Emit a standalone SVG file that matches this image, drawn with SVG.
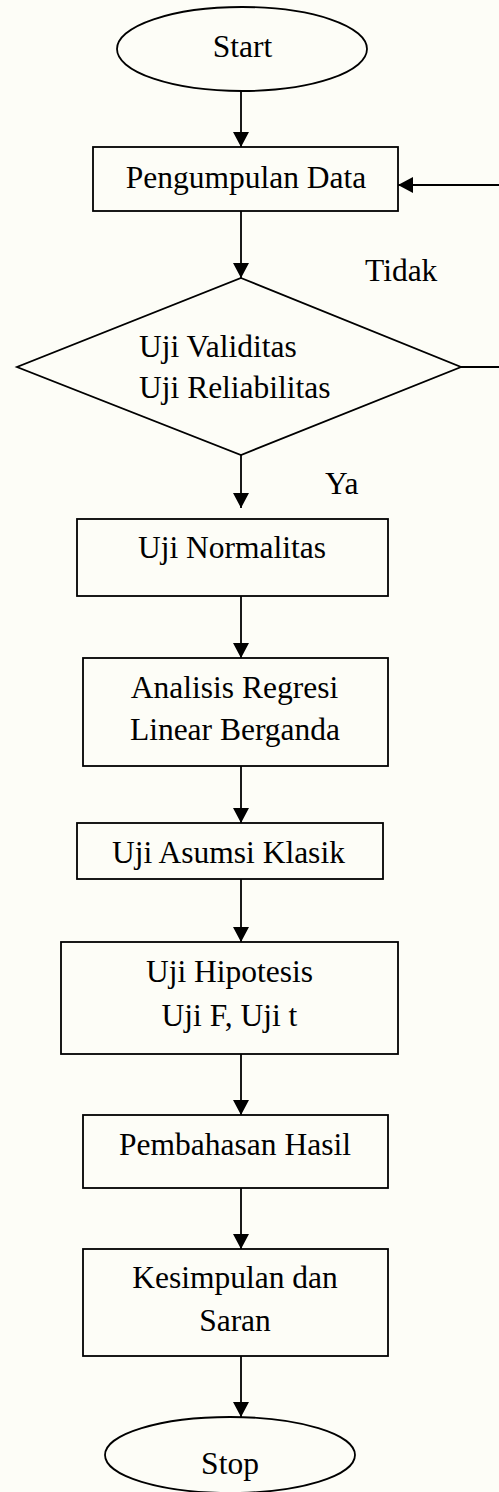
<svg xmlns="http://www.w3.org/2000/svg" width="499" height="1492" viewBox="0 0 499 1492">
<defs>
<marker id="ah" viewBox="0 0 15 16" refX="15" refY="8" markerWidth="15" markerHeight="16" markerUnits="userSpaceOnUse" orient="auto">
<path d="M0,0 L15,8 L0,16 Z" fill="#000"/>
</marker>
<style>
.shape{fill:none;stroke:#000;stroke-width:1.8}
.t{font-family:"Liberation Serif","Times New Roman",serif;font-size:31.5px;fill:#000}
.m{text-anchor:middle}
.c{fill:none;stroke:#000;stroke-width:1.8}
</style>
</defs>
<rect x="0" y="0" width="499" height="1492" fill="#fdfdf7"/>

<g id="connectors">
<line class="c" x1="241" y1="91" x2="241" y2="147" marker-end="url(#ah)"/>
<line class="c" x1="241" y1="211" x2="241" y2="278" marker-end="url(#ah)"/>
<line class="c" x1="241" y1="455" x2="241" y2="508" marker-end="url(#ah)"/>
<line class="c" x1="241" y1="596" x2="241" y2="658" marker-end="url(#ah)"/>
<line class="c" x1="241" y1="766" x2="241" y2="823" marker-end="url(#ah)"/>
<line class="c" x1="241" y1="879" x2="241" y2="942" marker-end="url(#ah)"/>
<line class="c" x1="241" y1="1054" x2="241" y2="1115" marker-end="url(#ah)"/>
<line class="c" x1="241" y1="1188" x2="241" y2="1249" marker-end="url(#ah)"/>
<line class="c" x1="241" y1="1356" x2="241" y2="1417" marker-end="url(#ah)"/>
<line class="c" x1="499" y1="185" x2="398" y2="185" marker-end="url(#ah)"/>
<line class="c" x1="461" y1="367" x2="499" y2="367"/>
<text class="t" x="365" y="281">Tidak</text>
<text class="t" x="325" y="494">Ya</text>
</g>

<g id="start">
<ellipse class="shape" cx="242" cy="49" rx="125" ry="42"/>
<text class="t m" x="242.5" y="57">Start</text>
</g>

<g id="pengumpulan">
<rect class="shape" x="93" y="147" width="305" height="64"/>
<text class="t m" x="246" y="188">Pengumpulan Data</text>
</g>

<g id="uji-validitas">
<polygon class="shape" points="241,278 461,367 241,455 17,367"/>
<text class="t" x="139" y="357">Uji Validitas</text>
<text class="t" x="139" y="398">Uji Reliabilitas</text>
</g>

<g id="uji-normalitas">
<rect class="shape" x="77" y="519" width="311" height="77"/>
<text class="t m" x="232" y="558">Uji Normalitas</text>
</g>

<g id="analisis-regresi">
<rect class="shape" x="83" y="658" width="305" height="108"/>
<text class="t m" x="234.5" y="698">Analisis Regresi</text>
<text class="t m" x="235" y="740">Linear Berganda</text>
</g>

<g id="uji-asumsi">
<rect class="shape" x="77" y="823" width="306" height="56"/>
<text class="t m" x="228.5" y="863">Uji Asumsi Klasik</text>
</g>

<g id="uji-hipotesis">
<rect class="shape" x="61" y="942" width="337" height="112"/>
<text class="t m" x="229.5" y="982">Uji Hipotesis</text>
<text class="t m" x="229.5" y="1026">Uji F, Uji t</text>
</g>

<g id="pembahasan">
<rect class="shape" x="83" y="1115" width="305" height="73"/>
<text class="t m" x="235" y="1155">Pembahasan Hasil</text>
</g>

<g id="kesimpulan">
<rect class="shape" x="83" y="1249" width="305" height="107"/>
<text class="t m" x="235" y="1288">Kesimpulan dan</text>
<text class="t m" x="235" y="1331">Saran</text>
</g>

<g id="stop">
<ellipse class="shape" cx="230" cy="1455" rx="125" ry="38"/>
<text class="t m" x="230" y="1474">Stop</text>
</g>
</svg>
